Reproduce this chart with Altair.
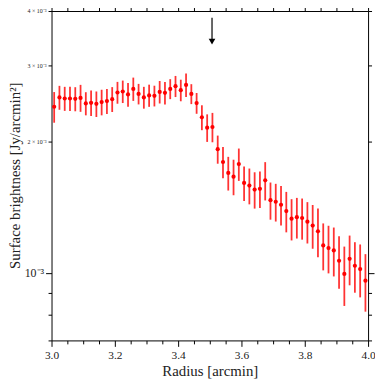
import altair as alt
import pandas as pd

# Radius bin centres [arcmin]
radius = [3.00833, 3.025, 3.04167, 3.05833, 3.075, 3.09167, 3.10833, 3.125, 3.14167, 3.15833,
          3.175, 3.19167, 3.20833, 3.225, 3.24167, 3.25833, 3.275, 3.29167, 3.30833, 3.325,
          3.34167, 3.35833, 3.375, 3.39167, 3.40833, 3.425, 3.44167, 3.45833, 3.475, 3.49167,
          3.50833, 3.525, 3.54167, 3.55833, 3.575, 3.59167, 3.60833, 3.625, 3.64167, 3.65833,
          3.675, 3.69167, 3.70833, 3.725, 3.74167, 3.75833, 3.775, 3.79167, 3.80833, 3.825,
          3.84167, 3.85833, 3.875, 3.89167, 3.90833, 3.925, 3.94167, 3.95833, 3.975, 3.99167]

# Surface brightness [1e-3 Jy/arcmin^2]
sb = [2.410, 2.532, 2.518, 2.518, 2.513, 2.526, 2.453, 2.461, 2.448, 2.470,
      2.483, 2.509, 2.599, 2.613, 2.572, 2.649, 2.580, 2.532, 2.559, 2.554,
      2.607, 2.594, 2.649, 2.687, 2.631, 2.705, 2.580, 2.457, 2.279, 2.158,
      2.165, 1.926, 1.799, 1.698, 1.665, 1.780, 1.611, 1.588, 1.555, 1.561,
      1.633, 1.470, 1.458, 1.435, 1.388, 1.333, 1.344, 1.338, 1.312, 1.285,
      1.247, 1.157, 1.141, 1.127, 1.067, 0.995, 1.078, 1.039, 1.021, 0.960]

# 1-sigma errors [1e-3 Jy/arcmin^2]
sb_err = [0.195, 0.160, 0.160, 0.160, 0.160, 0.180, 0.150, 0.165, 0.165, 0.167,
          0.165, 0.165, 0.150, 0.155, 0.162, 0.163, 0.140, 0.146, 0.150, 0.140,
          0.155, 0.155, 0.140, 0.150, 0.150, 0.167, 0.136, 0.135, 0.150, 0.157,
          0.168, 0.143, 0.149, 0.151, 0.156, 0.152, 0.147, 0.150, 0.149, 0.150,
          0.165, 0.144, 0.145, 0.150, 0.148, 0.145, 0.144, 0.145, 0.143, 0.148,
          0.160, 0.143, 0.143, 0.145, 0.147, 0.155, 0.141, 0.138, 0.142, 0.145]

# Arrow marking the edge
arrow_x = [3.507]
arrow_top = [3.86e-3]
arrow_head = [3.40e-3]

x_major = [3.0, 3.2, 3.4, 3.6, 3.8, 4.0]
x_minor = [3.05, 3.1, 3.15, 3.25, 3.3, 3.35, 3.45, 3.5, 3.55, 3.65, 3.7, 3.75,
           3.85, 3.9, 3.95]
y_major = [1e-3]
y_minor = [7e-4, 8e-4, 9e-4, 2e-3, 3e-3, 4e-3]

df = pd.DataFrame({
    "r": radius,
    "sb": [v * 1e-3 for v in sb],
    "lo": [(v - e) * 1e-3 for v, e in zip(sb, sb_err)],
    "hi": [(v + e) * 1e-3 for v, e in zip(sb, sb_err)],
})
arrow = pd.DataFrame({"x": arrow_x, "top": arrow_top, "head": arrow_head})

FONT = "Liberation Serif"
xs = alt.Scale(domain=[3.0, 4.0], nice=False, zero=False)
ys = alt.Scale(type="log", domain=[7e-4, 4e-3], nice=False)

common = dict(grid=False, domain=False, tickColor="black", tickWidth=1,
              labelFont=FONT, titleFont=FONT, labelColor="#222", titleColor="#222",
              labelOverlap=False)

x_bottom_major = alt.Axis(orient="bottom", values=x_major, format=".1f", tickSize=6,
                          labelFontSize=11.5, labelPadding=3, labelFlush=False, labelBound=False,
                          title="Radius [arcmin]", titleFontSize=15, titleFontWeight="normal",
                          titleBaseline="middle", titleY=30, **common)
x_bottom_minor = alt.Axis(orient="bottom", values=x_minor, tickSize=3.5, labels=False, title=None,
                          **common)
x_top_major = alt.Axis(orient="top", values=x_major, tickSize=6, labels=False, title=None, **common)
x_top_minor = alt.Axis(orient="top", values=x_minor, tickSize=3.5, labels=False, title=None, **common)

y_left_major = alt.Axis(orient="left", values=y_major, tickSize=6, labelFontSize=12,
                        labelExpr="'10⁻³'", labelPadding=2,
                        title="Surface brightness [Jy/arcmin²]", titleFontSize=15,
                        titleFontWeight="normal", titleBaseline="middle", titleAngle=-90,
                        titleX=-37, titleY=166, **common)
y_left_minor = alt.Axis(orient="left", values=y_minor, tickSize=3.5, labelFontSize=6,
                        labelPadding=2,
                        labelExpr="datum.value > 0.0015 ? format(datum.value * 1000, 'd') + ' × 10⁻³' : ''",
                        title=None, **common)
y_right_major = alt.Axis(orient="right", values=y_major, tickSize=6, labels=False, title=None, **common)
y_right_minor = alt.Axis(orient="right", values=y_minor, tickSize=3.5, labels=False, title=None, **common)

base = alt.Chart(df)

bars = base.mark_rule(color="#ff0000", strokeWidth=1.8, opacity=0.8).encode(
    x=alt.X("r:Q", scale=xs, axis=x_bottom_major),
    y=alt.Y("lo:Q", scale=ys, axis=y_left_major),
    y2="hi:Q",
)
points = base.mark_circle(color="#ff0000", size=18, opacity=1).encode(
    x=alt.X("r:Q", scale=xs, axis=x_bottom_minor),
    y=alt.Y("sb:Q", scale=ys, axis=y_left_minor),
)
ghost1 = base.mark_circle(opacity=0).encode(
    x=alt.X("r:Q", scale=xs, axis=x_top_major),
    y=alt.Y("sb:Q", scale=ys, axis=y_right_major),
)
ghost2 = base.mark_circle(opacity=0).encode(
    x=alt.X("r:Q", scale=xs, axis=x_top_minor),
    y=alt.Y("sb:Q", scale=ys, axis=y_right_minor),
)
arrow_line = alt.Chart(arrow).mark_rule(color="black", strokeWidth=1.2).encode(
    x=alt.X("x:Q", scale=xs, axis=None),
    y=alt.Y("top:Q", scale=ys, axis=None),
    y2="head:Q",
)
arrow_tri = alt.Chart(arrow).mark_point(shape="triangle-down", filled=True, color="black",
                                        size=45, opacity=1).encode(
    x=alt.X("x:Q", scale=xs, axis=None),
    y=alt.Y("head:Q", scale=ys, axis=None),
)

chart = alt.layer(bars, points, ghost1, ghost2, arrow_line, arrow_tri).resolve_axis(
    x="independent", y="independent"
).properties(
    width=320, height=333,
    autosize=alt.AutoSizeParams(type="none"),
    padding={"left": 44, "top": 1, "right": 7, "bottom": 40},
).configure_view(stroke="black", strokeWidth=1)

chart.save("out.html", embed_options={"renderer": "svg", "actions": False})
